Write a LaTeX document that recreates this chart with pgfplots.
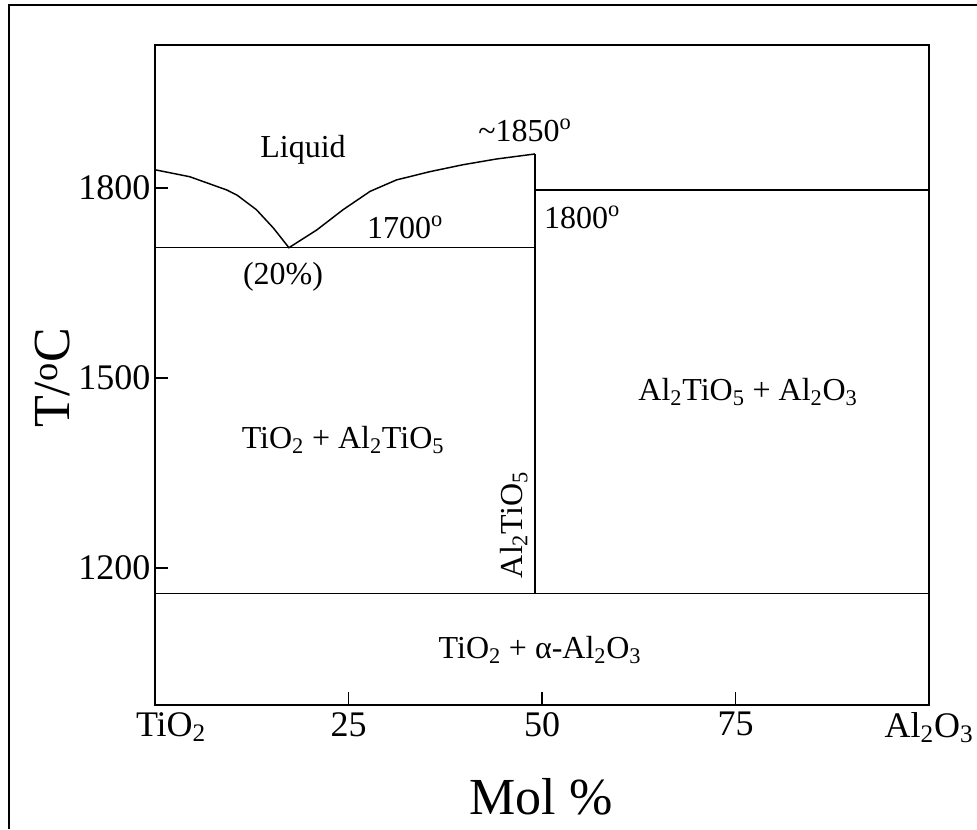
\documentclass[border=0pt]{standalone}
\usepackage{fontspec}
\setmainfont{Liberation Serif}
\usepackage{pgfplots}
\pgfplotsset{compat=1.18}
\newcommand{\sub}[1]{\textsubscript{#1}}
\newcommand{\dg}{\textsuperscript{o}}
\newcommand{\fa}{\fontsize{24}{28}\selectfont}
\newcommand{\fb}{\fontsize{39}{46}\selectfont}
\pgfplotstableread{
x y
0 1829
4.5 1818
9.3 1797
10.6 1789
13.1 1766
15.3 1737
17.3 1706
20.9 1734
24.3 1766
27.8 1795
31.2 1813
35.5 1826
39.8 1837
44.1 1846
49.1 1854
}\liquidus
\begin{document}
\begin{tikzpicture}
\useasboundingbox (0,0) rectangle (732.75pt,-621.75pt);
\draw[line width=1.5pt] (7.1pt,-621.75pt) -- (7.1pt,-3.75pt) -- (732.75pt,-3.75pt);
\begin{axis}[at={(116.25pt,-33.75pt)}, anchor=north west, scale only axis,
 width=580.5pt, height=495pt,
 xmin=0,xmax=100,ymin=984,ymax=2026,
 axis line style={line width=1.7pt},
 xtick={0,25,50,75,100},
 xticklabels={\hspace*{24pt}TiO\sub{2},25,50,75,Al\sub{2}O\sub{3}},
 ytick={1200,1500,1800},
 tick align=inside, xtick pos=bottom, ytick pos=left,
 major tick length=10pt, tick style={line width=1.1pt, black},
 ticklabel style={font=\fontsize{27}{32}\selectfont},
 xticklabel style={yshift=-2pt},
 /pgf/number format/assume math mode=true,
 /pgf/number format/1000 sep={},
 clip=false]
\addplot[black, line width=1.1pt] table[x=x,y=y]{\liquidus};
\addplot[black, line width=1.1pt] coordinates {(49.1,1160) (49.1,1854)};
\addplot[black, line width=1.1pt] coordinates {(0,1706) (49.1,1706)};
\addplot[black, line width=1.1pt] coordinates {(49.1,1797) (100,1797)};
\addplot[black, line width=1.1pt] coordinates {(0,1160) (100,1160)};
\end{axis}
\node[font=\fa] at (227.25pt,-112.5pt) {Liquid};
\node[font=\fa] at (393.75pt,-97.5pt) {\textasciitilde 1850\dg};
\node[font=\fa] at (303.75pt,-170.25pt) {1700\dg};
\node[font=\fa] at (212.25pt,-207.75pt) {(20\%)};
\node[font=\fa] at (436.5pt,-162.75pt) {1800\dg};
\node[font=\fa] at (257.25pt,-330pt) {TiO\sub{2} + Al\sub{2}TiO\sub{5}};
\node[font=\fa] at (561pt,-294pt) {Al\sub{2}TiO\sub{5} + Al\sub{2}O\sub{3}};
\node[font=\fa, rotate=90] at (385.5pt,-393.75pt) {Al\sub{2}TiO\sub{5}};
\node[font=\fa] at (405pt,-487.5pt) {TiO\sub{2} + α-Al\sub{2}O\sub{3}};
\node[font=\fb] at (405.75pt,-597.75pt) {Mol \%};
\node[font=\fb, rotate=90] at (39.75pt,-283.5pt) {T/\dg C};
\end{tikzpicture}
\end{document}
